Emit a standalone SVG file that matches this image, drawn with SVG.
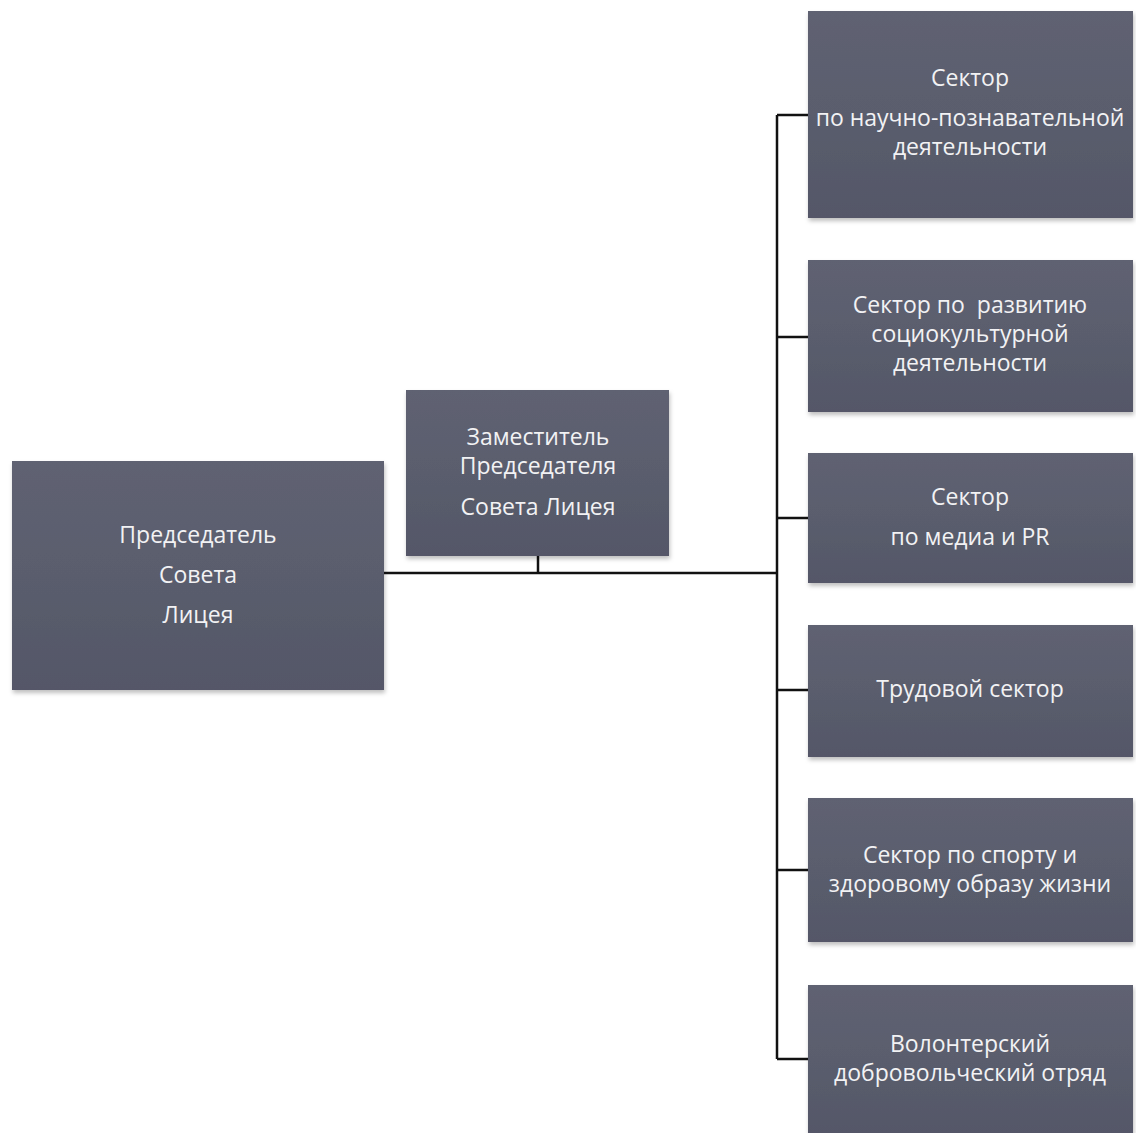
<svg xmlns="http://www.w3.org/2000/svg" width="1136" height="1133" viewBox="0 0 1136 1133">
<defs>
<linearGradient id="g" x1="0" y1="0" x2="0" y2="1">
<stop offset="0" stop-color="#5f6272"/>
<stop offset="0.5" stop-color="#5a5d6d"/>
<stop offset="1" stop-color="#545768"/>
</linearGradient>
<filter id="sh" x="-5%" y="-5%" width="110%" height="115%">
<feDropShadow dx="1" dy="3" stdDeviation="2" flood-color="#000" flood-opacity="0.25"/>
</filter>
</defs>
<style>
.box{fill:url(#g);filter:url(#sh)}
.t{font-family:"Open Sans","Noto Sans","Liberation Sans",sans-serif;font-size:23px;fill:#f2f2f4;text-anchor:middle;white-space:pre}
.c{stroke:#111;stroke-width:2.5;fill:none}
</style>
<rect width="1136" height="1133" fill="#fff"/>
<g id="connectors">
<path class="c" d="M384 573H777"/>
<path class="c" d="M538 556V573"/>
<path class="c" d="M777 115V1059"/>
<path class="c" d="M777 115H808M777 337H808M777 518H808M777 690H808M777 870H808M777 1059H808"/>
</g>
<g id="chair">
<rect class="box" x="12" y="461" width="372" height="229"/>
<text class="t" x="198" y="543">Председатель</text>
<text class="t" x="198" y="583">Совета</text>
<text class="t" x="198" y="623">Лицея</text>
</g>
<g id="deputy">
<rect class="box" x="406" y="390" width="263" height="166"/>
<text class="t" x="538" y="445">Заместитель</text>
<text class="t" x="538" y="474">Председателя</text>
<text class="t" x="538" y="515">Совета Лицея</text>
</g>
<g id="s1">
<rect class="box" x="808" y="11" width="325" height="207"/>
<text class="t" x="970" y="86">Сектор</text>
<text class="t" x="970" y="126">по научно-познавательной</text>
<text class="t" x="970" y="155">деятельности</text>
</g>
<g id="s2">
<rect class="box" x="808" y="260" width="325" height="152"/>
<text class="t" x="970" y="313" xml:space="preserve">Сектор по  развитию</text>
<text class="t" x="970" y="342">социокультурной</text>
<text class="t" x="970" y="371">деятельности</text>
</g>
<g id="s3">
<rect class="box" x="808" y="453" width="325" height="130"/>
<text class="t" x="970" y="505">Сектор</text>
<text class="t" x="970" y="545">по медиа и PR</text>
</g>
<g id="s4">
<rect class="box" x="808" y="625" width="325" height="132"/>
<text class="t" x="970" y="697">Трудовой сектор</text>
</g>
<g id="s5">
<rect class="box" x="808" y="798" width="325" height="144"/>
<text class="t" x="970" y="863">Сектор по спорту и</text>
<text class="t" x="970" y="892">здоровому образу жизни</text>
</g>
<g id="s6">
<rect class="box" x="808" y="985" width="325" height="150"/>
<text class="t" x="970" y="1052">Волонтерский</text>
<text class="t" x="970" y="1081">добровольческий отряд</text>
</g>
</svg>
